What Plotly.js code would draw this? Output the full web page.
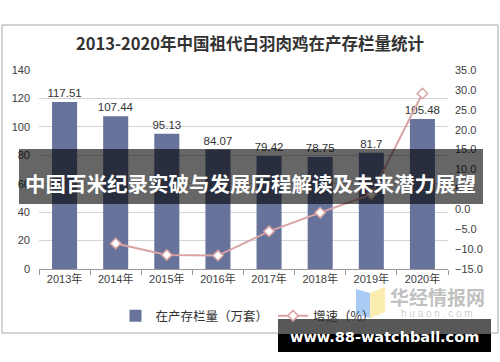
<!DOCTYPE html>
<html>
<head>
<meta charset="utf-8">
<script src="https://cdn.plot.ly/plotly-3.0.1.min.js"></script>
<style>html,body{margin:0;padding:0;background:#fff;}#chart{width:500px;height:362px;}</style>
</head>
<body>
<div id="chart"></div>
<script>
const categories = ["2013年","2014年","2015年","2016年","2017年","2018年","2019年","2020年"];
const stock = [117.51, 107.44, 95.13, 84.07, 79.42, 78.75, 81.7, 105.48];
const growth = [null, -8.57, -11.46, -11.63, -5.53, -0.84, 3.75, 29.1];
const leftTicks = [0, 20, 40, 60, 80, 100, 120, 140];
const rightTicks = [-15, -10, -5, 0, 5, 10, 15, 20, 25, 30, 35];
const seriesNames = ["在产存栏量（万套）", "增速（%）"];
const titleText = "2013-2020年中国祖代白羽肉鸡在产存栏量统计";
const bannerText = "中国百米纪录实破与发展历程解读及未来潜力展望";
const siteText = "www.88-watchball.com";

const W = 500, H = 362, L = 39, R = 448, T = 70, B = 269;
const px = x => (x - L) / (R - L);
const py = y => (B - y) / (B - T);
const tickFont = {family: "Liberation Sans, Arial, Noto Sans CJK SC", size: 11, color: "#404040"};

const traces = [
  {
    type: "bar", x: categories, y: stock, name: seriesNames[0],
    marker: {color: "#68739c"},
    texttemplate: "%{y}", textposition: "outside", cliponaxis: false, constraintext: "none",
    textfont: {family: "Liberation Sans, Arial", size: 11.5, color: "#333"},
    hoverinfo: "skip"
  },
  {
    type: "scatter", mode: "lines+markers", x: categories, y: growth, name: seriesNames[1],
    yaxis: "y2",
    line: {color: "#d9a3a3", width: 2},
    marker: {symbol: "diamond", size: 8, color: "#ffffff", line: {color: "#d9a3a3", width: 1.5}},
    cliponaxis: false, hoverinfo: "skip"
  }
];

const layout = {
  width: W, height: H,
  margin: {l: L, r: W - R, t: T, b: H - B},
  paper_bgcolor: "#ffffff", plot_bgcolor: "#ffffff",
  showlegend: true,
  bargap: 0.51,
  title: {
    text: titleText, x: 0.5, xref: "container", xanchor: "center",
    y: 1 - 44 / H, yref: "container", yanchor: "middle",
    font: {family: "Noto Sans CJK SC", size: 16.5, color: "#333", weight: "bold"}
  },
  xaxis: {
    type: "category", tickfont: tickFont,
    showline: true, linecolor: "#9a9a9a", linewidth: 1,
    ticks: "outside", tickson: "boundaries", ticklen: 5, tickcolor: "#9a9a9a",
    showgrid: false, fixedrange: true
  },
  yaxis: {
    range: [0, 140], tickvals: leftTicks, tickfont: tickFont,
    showgrid: true, gridcolor: "#d4d4d4", gridwidth: 1, zeroline: false,
    showline: false, ticks: "", ticklabelstandoff: 8, fixedrange: true
  },
  yaxis2: {
    range: [-15, 35], tickvals: rightTicks, overlaying: "y", side: "right",
    tickformat: ".1f", ticksuffix: "%", tickfont: tickFont,
    showgrid: false, zeroline: false, showline: false, ticks: "", ticklabelstandoff: 6, fixedrange: true
  },
  legend: {
    orientation: "h", x: px(248), xanchor: "center", y: py(316), yanchor: "middle",
    font: {family: "Noto Sans CJK SC", size: 12.5, color: "#333"},
    bgcolor: "rgba(0,0,0,0)", itemwidth: 30, tracegroupgap: 0
  },
  shapes: [
    {type: "rect", xref: "paper", yref: "paper", x0: px(2), x1: px(498), y0: py(25), y1: py(333),
     line: {color: "#a6a6a6", width: 1}, fillcolor: "rgba(0,0,0,0)", layer: "below"},
    {type: "path", xref: "paper", yref: "paper",
     path: `M ${px(356)} ${py(289)} L ${px(370)} ${py(293)} L ${px(370)} ${py(318)} L ${px(356)} ${py(314)} Z`,
     fillcolor: "rgba(140,185,240,0.75)", line: {width: 0}},
    {type: "path", xref: "paper", yref: "paper",
     path: `M ${px(370)} ${py(293)} L ${px(385)} ${py(287)} L ${px(385)} ${py(312)} L ${px(370)} ${py(318)} Z`,
     fillcolor: "rgba(250,230,150,0.75)", line: {width: 0}},
    {type: "rect", xref: "paper", yref: "paper", x0: px(19), x1: px(483), y0: py(149), y1: py(204),
     fillcolor: "rgba(0,0,0,0.6)", line: {width: 0}, layer: "above"},
    {type: "rect", xref: "paper", yref: "paper", x0: px(278), x1: px(491), y0: py(319), y1: py(334),
     fillcolor: "#585858", line: {width: 0}, layer: "above"},
    {type: "rect", xref: "paper", yref: "paper", x0: px(278), x1: px(491), y0: py(334), y1: py(352),
     fillcolor: "#000000", line: {width: 0}, layer: "above"}
  ],
  annotations: [
    {text: "华经情报网", xref: "paper", yref: "paper", x: px(437), y: py(296), xanchor: "center", yanchor: "middle",
     showarrow: false, font: {family: "Noto Sans CJK SC", size: 19, color: "rgba(150,150,150,0.6)", weight: "bold"}},
    {text: "h u a o n . c o m", xref: "paper", yref: "paper", x: px(437), y: py(313), xanchor: "center", yanchor: "middle",
     showarrow: false, font: {family: "Liberation Sans", size: 10, color: "rgba(170,170,170,0.6)"}},
    {text: bannerText, xref: "paper", yref: "paper", x: px(251), y: py(183), xanchor: "center", yanchor: "middle",
     showarrow: false, font: {family: "Noto Sans CJK SC", size: 20.5, color: "#ffffff", weight: "bold"}},
    {text: siteText, xref: "paper", yref: "paper", x: px(384), y: py(337), xanchor: "center", yanchor: "middle",
     showarrow: false, font: {family: "DejaVu Sans", size: 14.5, color: "#ffffff", weight: "bold"}}
  ]
};

Plotly.newPlot("chart", traces, layout, {displayModeBar: false, staticPlot: true});
</script>
</body>
</html>
